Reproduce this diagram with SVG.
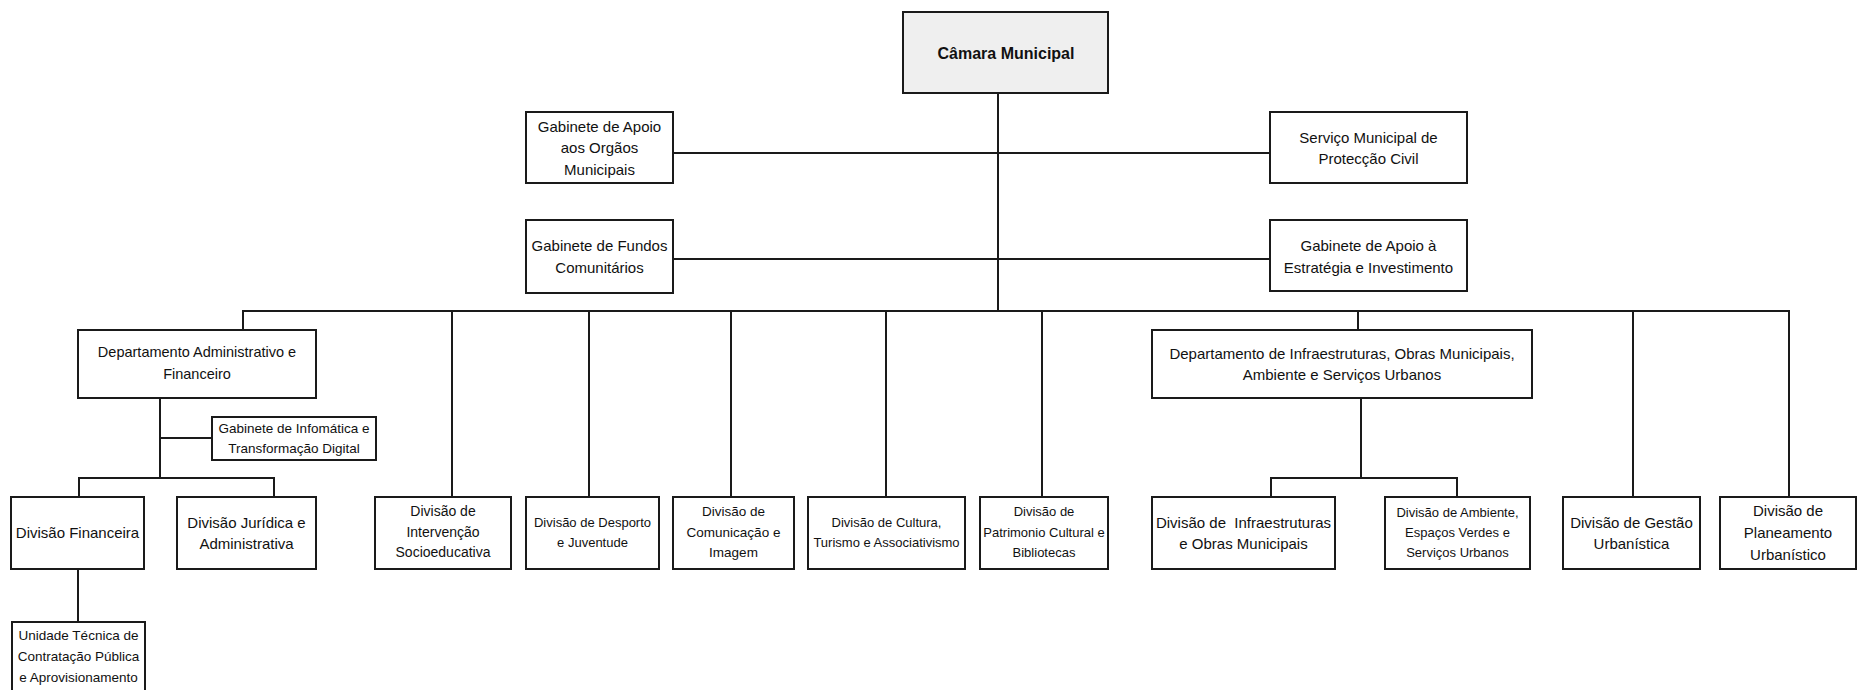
<svg xmlns="http://www.w3.org/2000/svg" width="1858" height="690" viewBox="0 0 1858 690">
<style>
.box{fill:#ffffff;stroke:#1a1a1a;stroke-width:2}
.top{fill:#efefef;stroke:#1a1a1a;stroke-width:2}
.ln{stroke:#1a1a1a;stroke-width:2;fill:none;stroke-linecap:square}
text{font-family:"Liberation Sans",Arial,sans-serif;fill:#111;text-anchor:middle;dominant-baseline:central}
.f15{font-size:15px}
.f145{font-size:14.5px}
.f14{font-size:14px}
.f135{font-size:13.5px}
.f13{font-size:13px}
.b{font-size:16px;font-weight:bold}
</style>
<rect width="1858" height="690" fill="#ffffff"/>
<g id="connectors">
<path class="ln" d="M998 93V311"/>
<path class="ln" d="M673 153H1270"/>
<path class="ln" d="M673 259H1270"/>
<path class="ln" d="M243 311H1789"/>
<path class="ln" d="M243 311V330"/>
<path class="ln" d="M452 311V497"/>
<path class="ln" d="M589 311V497"/>
<path class="ln" d="M731 311V497"/>
<path class="ln" d="M886 311V497"/>
<path class="ln" d="M1042 311V497"/>
<path class="ln" d="M1358 311V330"/>
<path class="ln" d="M1633 311V497"/>
<path class="ln" d="M1789 311V497"/>
<path class="ln" d="M160 398V478"/>
<path class="ln" d="M160 438H212"/>
<path class="ln" d="M79 497V478H274V497"/>
<path class="ln" d="M78 569V622"/>
<path class="ln" d="M1361 398V478"/>
<path class="ln" d="M1271 497V478H1457V497"/>
</g>
<g id="camara"><rect class="top" x="903" y="12" width="205" height="81"/><text class="b" x="1006" y="53">Câmara Municipal</text></g>
<g id="gab-apoio-orgaos"><rect class="box" x="526" y="112" width="147" height="71"/><text class="f15" x="599.5" y="126">Gabinete de Apoio</text><text class="f15" x="599.5" y="147.5">aos Orgãos</text><text class="f15" x="599.5" y="169">Municipais</text></g>
<g id="servico-protecao"><rect class="box" x="1270" y="112" width="197" height="71"/><text class="f15" x="1368.5" y="137">Serviço Municipal de</text><text class="f15" x="1368.5" y="158.5">Protecção Civil</text></g>
<g id="gab-fundos"><rect class="box" x="526" y="220" width="147" height="73"/><text class="f15" x="599.5" y="245">Gabinete de Fundos</text><text class="f15" x="599.5" y="267">Comunitários</text></g>
<g id="gab-estrategia"><rect class="box" x="1270" y="220" width="197" height="71"/><text class="f15" x="1368.5" y="245">Gabinete de Apoio à</text><text class="f15" x="1368.5" y="267">Estratégia e Investimento</text></g>
<g id="dep-admin"><rect class="box" x="78" y="330" width="238" height="68"/><text class="f145" x="197" y="352">Departamento Administrativo e</text><text class="f145" x="197" y="374">Financeiro</text></g>
<g id="gab-informatica"><rect class="box" x="212" y="417" width="164" height="43"/><text class="f135" x="294" y="428">Gabinete de Infomática e</text><text class="f135" x="294" y="448">Transformação Digital</text></g>
<g id="div-financeira"><rect class="box" x="11" y="497" width="133" height="72"/><text class="f15" x="77.5" y="532">Divisão Financeira</text></g>
<g id="div-juridica"><rect class="box" x="177" y="497" width="139" height="72"/><text class="f15" x="246.5" y="522">Divisão Jurídica e</text><text class="f15" x="246.5" y="543">Administrativa</text></g>
<g id="unidade-tecnica"><rect class="box" x="12" y="622" width="133" height="70"/><text class="f135" x="78.5" y="635">Unidade Técnica de</text><text class="f135" x="78.5" y="656">Contratação Pública</text><text class="f135" x="78.5" y="677">e Aprovisionamento</text></g>
<g id="div-intervencao"><rect class="box" x="375" y="497" width="136" height="72"/><text class="f14" x="443" y="511">Divisão de</text><text class="f14" x="443" y="532">Intervenção</text><text class="f14" x="443" y="552">Socioeducativa</text></g>
<g id="div-desporto"><rect class="box" x="526" y="497" width="133" height="72"/><text class="f13" x="592.5" y="522">Divisão de Desporto</text><text class="f13" x="592.5" y="542">e Juventude</text></g>
<g id="div-comunicacao"><rect class="box" x="673" y="497" width="121" height="72"/><text class="f135" x="733.5" y="511">Divisão de</text><text class="f135" x="733.5" y="532">Comunicação e</text><text class="f135" x="733.5" y="552">Imagem</text></g>
<g id="div-cultura"><rect class="box" x="808" y="497" width="157" height="72"/><text class="f13" x="886.5" y="522">Divisão de Cultura,</text><text class="f13" x="886.5" y="542">Turismo e Associativismo</text></g>
<g id="div-patrimonio"><rect class="box" x="980" y="497" width="128" height="72"/><text class="f13" x="1044" y="511">Divisão de</text><text class="f13" x="1044" y="532">Patrimonio Cultural e</text><text class="f13" x="1044" y="552">Bibliotecas</text></g>
<g id="dep-infra"><rect class="box" x="1152" y="330" width="380" height="68"/><text class="f15" x="1342" y="353">Departamento de Infraestruturas, Obras Municipais,</text><text class="f15" x="1342" y="374">Ambiente e Serviços Urbanos</text></g>
<g id="div-infra"><rect class="box" x="1152" y="497" width="183" height="72"/><text class="f15" x="1243.5" y="522" xml:space="preserve">Divisão de  Infraestruturas</text><text class="f15" x="1243.5" y="543">e Obras Municipais</text></g>
<g id="div-ambiente"><rect class="box" x="1385" y="497" width="145" height="72"/><text class="f13" x="1457.5" y="512">Divisão de Ambiente,</text><text class="f13" x="1457.5" y="532">Espaços Verdes e</text><text class="f13" x="1457.5" y="552">Serviços Urbanos</text></g>
<g id="div-gestao"><rect class="box" x="1563" y="497" width="137" height="72"/><text class="f15" x="1631.5" y="522">Divisão de Gestão</text><text class="f15" x="1631.5" y="543">Urbanística</text></g>
<g id="div-planeamento"><rect class="box" x="1720" y="497" width="136" height="72"/><text class="f15" x="1788" y="510">Divisão de</text><text class="f15" x="1788" y="532">Planeamento</text><text class="f15" x="1788" y="554">Urbanístico</text></g>
</svg>
